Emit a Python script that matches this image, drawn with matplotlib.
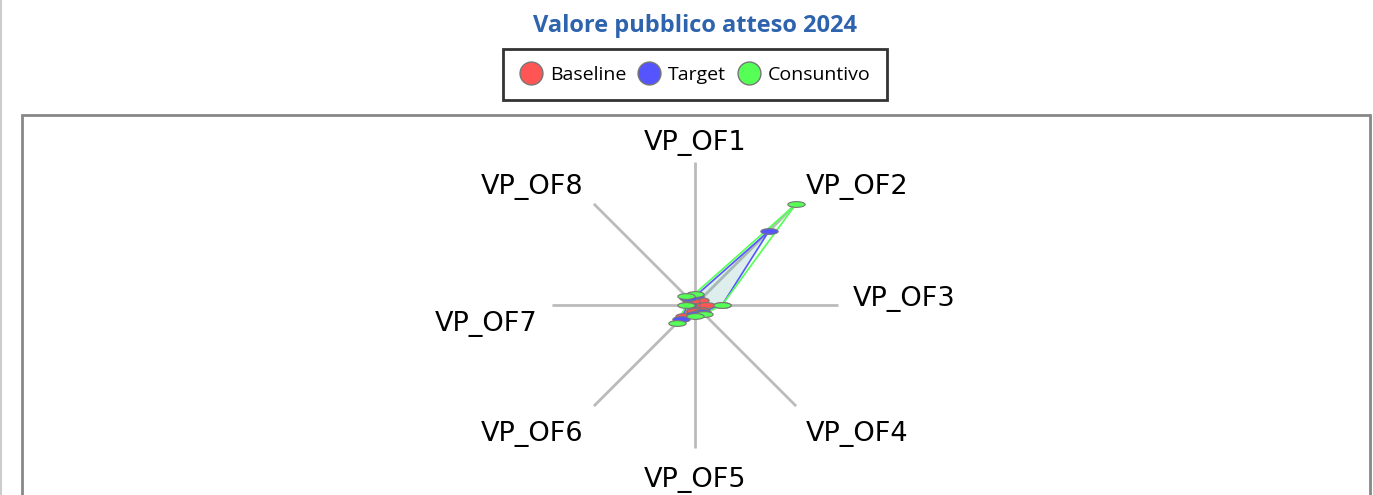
import numpy as np
import matplotlib
matplotlib.use("Agg")
import matplotlib.pyplot as plt
from matplotlib.path import Path
from matplotlib.lines import Line2D
from matplotlib.patches import Rectangle

categories = ["VP_OF1", "VP_OF2", "VP_OF3", "VP_OF4", "VP_OF5", "VP_OF6", "VP_OF7", "VP_OF8"]
baseline = [3, 5, 8, 5, 4, 11, 3, 4]
target = [6, 73, 19, 7, 6, 14, 5, 7]
consuntivo = [8, 100, 19, 9, 8, 18, 6, 9]
series_names = ["Baseline", "Target", "Consuntivo"]
series_colors = ["#ff5555", "#5555ff", "#55ff55"]
title = "Valore pubblico atteso 2024"
rmax = 100

W, H = 1373, 495
fig = plt.figure(figsize=(W / 100, H / 100), dpi=100)

# outer frame
fig.patches.append(Rectangle((22 / W, -0.2), (1370 - 22) / W, 1.2 - 115 / H,
                             transform=fig.transFigure, fill=False,
                             edgecolor="#888888", linewidth=2))
fig.lines.append(Line2D([0.5 / W, 0.5 / W], [0, 1], transform=fig.transFigure,
                        color="#cccccc", linewidth=1.5))

# radar axes (cartesian, 1 unit = 143 px)
cx, cy = 695, H - 305
scale = 143.0
aw, ah = 600, 370
ax = fig.add_axes([(cx - aw / 2) / W, (cy - ah / 2) / H, aw / W, ah / H])
ax.set_xlim(-aw / 2 / scale, aw / 2 / scale)
ax.set_ylim(-ah / 2 / scale, ah / 2 / scale)
ax.axis("off")

n = len(categories)
angles = np.pi / 2 - 2 * np.pi * np.arange(n) / n

for a in angles:
    ax.plot([0, np.cos(a)], [0, np.sin(a)], color="#bbbbbb", lw=2, zorder=1,
            solid_capstyle="butt")

# label placement (pixel offsets relative to default radial placement)
label_shift = {"VP_OF1": -3, "VP_OF2": -6, "VP_OF3": 6, "VP_OF4": -5,
               "VP_OF5": -10, "VP_OF6": -5, "VP_OF7": -19, "VP_OF8": -6}
for i, (lab, a) in enumerate(zip(categories, angles)):
    c, s = np.cos(a), np.sin(a)
    r = 1.10
    if abs(c) < 0.1:
        r = 1.06
    x, y = r * c, r * s
    ha = "center" if abs(c) < 0.1 else ("left" if c > 0 else "right")
    va = "center" if abs(s) < 0.1 else ("bottom" if s > 0 else "top")
    ax.text(x, y + label_shift[lab] / scale, lab, ha=ha, va=va, fontsize=19.5,
            color="black", family="DejaVu Sans")

ell = Path.unit_circle().transformed(matplotlib.transforms.Affine2D().scale(1.0, 0.33))

for name, vals, col in zip(series_names, [baseline, target, consuntivo], series_colors):
    v = np.array(vals) / rmax
    xs = v * np.cos(angles)
    ys = v * np.sin(angles)
    xs_c = np.append(xs, xs[0])
    ys_c = np.append(ys, ys[0])
    ax.fill(xs_c, ys_c, color=col, alpha=0.1, lw=0, zorder=2)
    ax.plot(xs_c, ys_c, color=col, lw=1.2, zorder=3)
    ax.plot(xs, ys, ls="none", marker=ell, markersize=12.5, markerfacecolor=col,
            markeredgecolor="#777777", markeredgewidth=0.8, zorder=4)

fig.text(cx / W, 1 - 26 / H, title, ha="center", va="center", fontsize=17,
         fontweight="bold", color="#2e64ae", family="Open Sans")

handles = [Line2D([], [], ls="none", marker="o", markersize=16.5, markerfacecolor=c,
                  markeredgecolor="#777777", markeredgewidth=1) for c in series_colors]
leg = fig.legend(handles, series_names, loc="center",
                 bbox_to_anchor=(cx / W, 1 - 74.5 / H), ncol=3, frameon=True,
                 fancybox=False, edgecolor="black",
                 handletextpad=0.4, columnspacing=0.55, borderpad=0.85,
                 handlelength=1.2, borderaxespad=0,
                 prop={"family": "Open Sans", "size": 14})
leg.get_frame().set_linewidth(2)

fig.savefig("out.png", dpi=100)
